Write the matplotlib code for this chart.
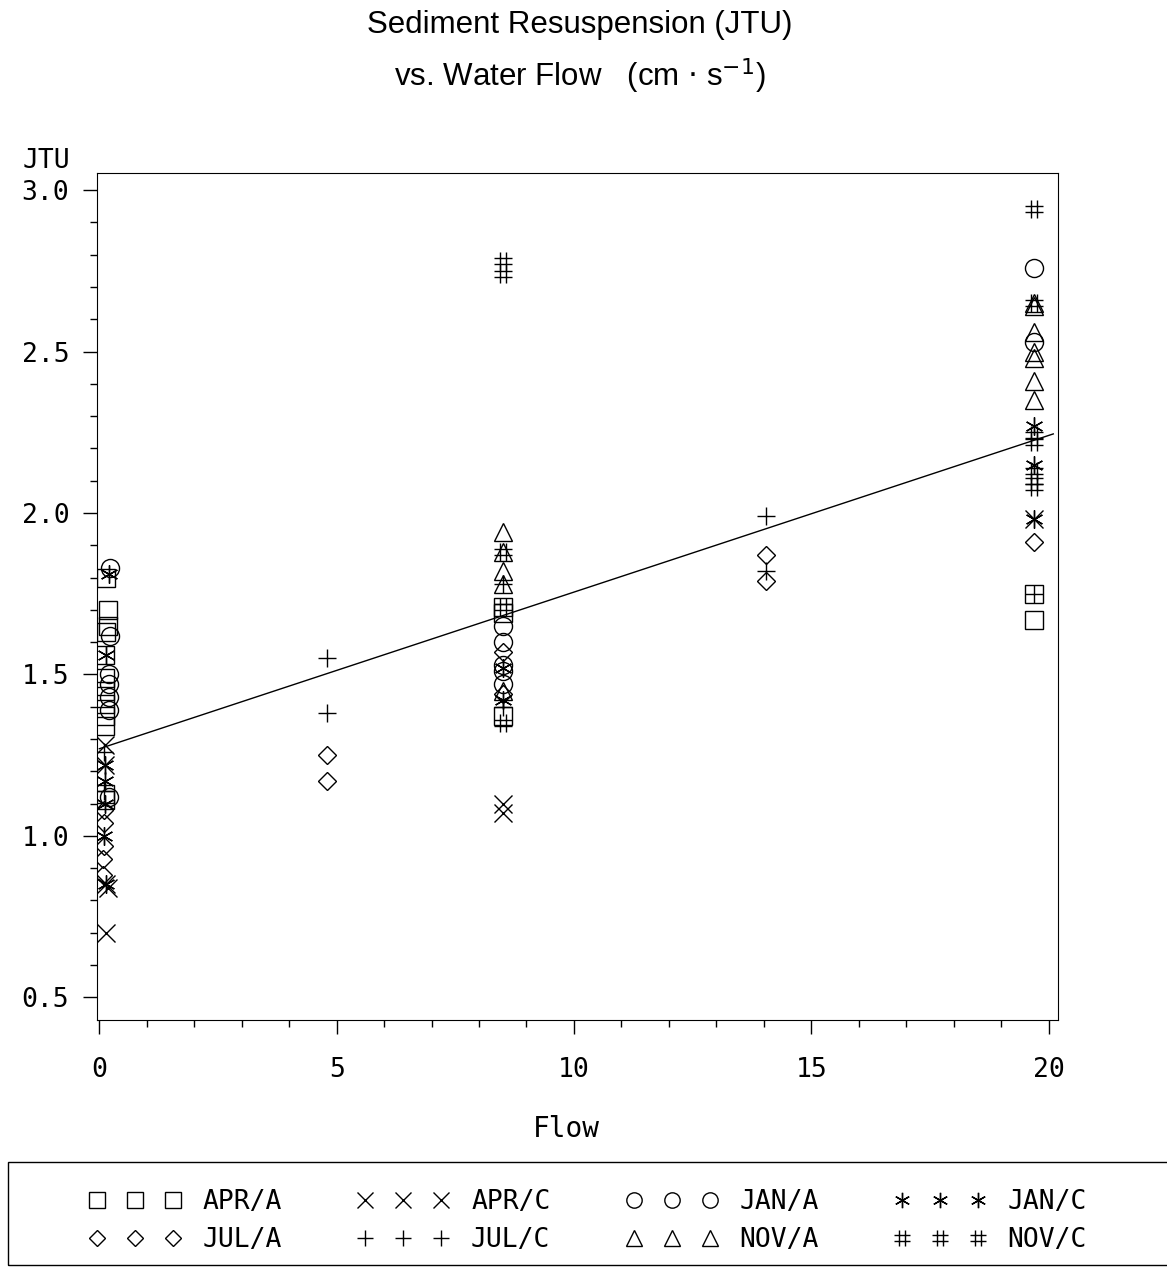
import matplotlib
matplotlib.use("Agg")
import matplotlib.pyplot as plt
from matplotlib.ticker import MultipleLocator
from matplotlib.path import Path
from matplotlib.patches import Rectangle

# series values: (flow, JTU)
apr_a_flow = [0.15, 0.18, 0.18, 0.15, 0.12, 0.12, 0.12, 0.12, 0.12, 0.12, 0.12, 0.12,
              8.5, 8.5, 8.5, 19.7, 19.7]
apr_a_jtu = [1.80, 1.70, 1.65, 1.63, 1.56, 1.49, 1.45, 1.41, 1.37, 1.34, 1.13, 1.11,
             1.71, 1.69, 1.37, 1.75, 1.67]

apr_c_flow = [0.12, 0.12, 0.15, 0.18, 0.15, 8.5, 8.5, 19.7]
apr_c_jtu = [1.28, 1.22, 0.85, 0.84, 0.70, 1.10, 1.07, 1.98]

jan_a_flow = [0.22, 0.22, 0.2, 0.2, 0.2, 0.2, 0.2, 8.5, 8.5, 8.5, 8.5, 8.5, 19.7, 19.7]
jan_a_jtu = [1.83, 1.62, 1.50, 1.47, 1.43, 1.39, 1.12, 1.65, 1.60, 1.53, 1.51, 1.47, 2.76, 2.53]

jan_c_flow = [0.2, 0.15, 0.12, 0.12, 0.12, 0.1, 0.15, 8.5, 8.5, 19.7, 19.7, 19.7]
jan_c_jtu = [1.81, 1.56, 1.22, 1.17, 1.10, 1.00, 0.85, 1.52, 1.42, 2.27, 2.15, 1.98]

jul_a_flow = [0.1, 0.1, 0.1, 0.08, 0.08, 4.8, 4.8, 14.05, 14.05, 19.7, 8.5, 8.5]
jul_a_jtu = [1.08, 1.04, 0.97, 0.93, 0.88, 1.25, 1.17, 1.87, 1.79, 1.91, 1.57, 1.44]

jul_c_flow = [0.1, 0.1, 4.8, 4.8, 14.05, 14.05, 8.5, 8.5, 19.7]
jul_c_jtu = [1.26, 1.14, 1.55, 1.38, 1.99, 1.82, 1.78, 1.40, 1.75]

nov_a_flow = [8.5, 8.5, 8.5, 8.5, 8.5, 19.7, 19.7, 19.7, 19.7, 19.7, 19.7, 19.7]
nov_a_jtu = [1.94, 1.88, 1.82, 1.78, 1.45, 2.65, 2.64, 2.56, 2.50, 2.48, 2.41, 2.35]

nov_c_flow = [8.5, 8.5, 8.5, 8.5, 8.5, 19.7, 19.7, 19.7, 19.7, 19.7, 19.7, 19.7]
nov_c_jtu = [2.78, 2.74, 1.88, 1.71, 1.35, 2.94, 2.65, 2.24, 2.22, 2.13, 2.10, 2.08]

# fitted line
fit_intercept = 1.27
fit_slope = 0.0485
fit_x = [0.0, 20.1]

mono = "DejaVu Sans Mono"

# plotter style "#" symbol
hash_marker = Path(
    [(-0.35, -1), (-0.35, 1), (0.35, -1), (0.35, 1),
     (-1, -0.35), (1, -0.35), (-1, 0.35), (1, 0.35)],
    [Path.MOVETO, Path.LINETO] * 4)

fig = plt.figure(figsize=(11.67, 12.68), dpi=100)
ax = fig.add_axes([0.0831, 0.1956, 0.8235, 0.668])

series = [
    (apr_a_flow, apr_a_jtu, "s", 13, "APR/A"),
    (jul_a_flow, jul_a_jtu, "D", 9, "JUL/A"),
    (apr_c_flow, apr_c_jtu, "x", 13, "APR/C"),
    (jul_c_flow, jul_c_jtu, "+", 13, "JUL/C"),
    (jan_a_flow, jan_a_jtu, "o", 13, "JAN/A"),
    (nov_a_flow, nov_a_jtu, "^", 13, "NOV/A"),
    (jan_c_flow, jan_c_jtu, (6, 2, 0), 13, "JAN/C"),
    (nov_c_flow, nov_c_jtu, hash_marker, 13, "NOV/C"),
]
for fx, fy, m, s, lab in series:
    ax.plot(fx, fy, linestyle="none", marker=m, markersize=s,
            markerfacecolor="none", markeredgecolor="black",
            markeredgewidth=1.0, color="black", label=lab)

ax.plot(fit_x, [fit_intercept + fit_slope * v for v in fit_x],
        color="black", linewidth=1.0)

ax.set_xlim(-0.05, 20.2)
ax.set_ylim(0.43, 3.053)
ax.xaxis.set_major_locator(MultipleLocator(5))
ax.xaxis.set_minor_locator(MultipleLocator(1))
ax.yaxis.set_major_locator(MultipleLocator(0.5))
ax.yaxis.set_minor_locator(MultipleLocator(0.1))
ax.set_yticks([0.5, 1.0, 1.5, 2.0, 2.5, 3.0])
ax.tick_params(which="both", direction="out", width=1.0)
ax.tick_params(which="major", length=10, labelsize=19, pad=10)
ax.tick_params(axis="x", which="major", pad=17)
ax.tick_params(which="minor", length=5)
for lbl in ax.get_xticklabels() + ax.get_yticklabels():
    lbl.set_fontfamily(mono)
ax.xaxis.set_major_formatter(plt.FuncFormatter(lambda v, p: "%d" % v))
ax.yaxis.set_major_formatter(plt.FuncFormatter(lambda v, p: "%.1f" % v))

fig.text(0.485, 0.110, "Flow", fontsize=20, fontfamily=mono, ha="center", va="center")
fig.text(0.019, 0.873, "JTU", fontsize=19, fontfamily=mono, ha="left", va="center")

fig.text(0.497, 0.980, "Sediment Resuspension (JTU)", fontsize=22.5,
         fontfamily="Liberation Sans", ha="center", va="center")
fig.text(0.497, 0.940, r"vs. Water Flow   (cm $\cdot$ s$^{-1}$)", fontsize=22.5,
         fontfamily="Liberation Sans", ha="center", va="center")

# legend box spans the full width below the plot
fig.patches.append(Rectangle((8 / 1167, 0.0025), 1.0, 1 - 1162 / 1268 - 0.0025,
                             transform=fig.transFigure, fill=False,
                             edgecolor="black", linewidth=1.0))
leg = ax.legend(loc="upper left", bbox_to_anchor=(89 / 1167, 1 - 1189 / 1268),
                bbox_transform=fig.transFigure, ncol=4, frameon=False,
                numpoints=3, handlelength=3.48, handletextpad=0.83,
                columnspacing=2.85, borderaxespad=0, borderpad=0,
                prop={"family": mono, "size": 19}, markerscale=0.85,
                labelspacing=0.45)

fig.savefig("out.png", dpi=100)
